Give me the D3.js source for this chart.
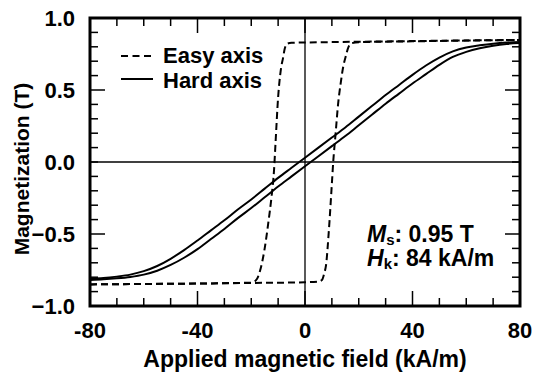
<!DOCTYPE html>
<html>
<head>
<meta charset="utf-8">
<script src="https://cdn.jsdelivr.net/npm/d3@7"></script>
<style>
  body { margin: 0; background: #fff; }
  text { font-family: "Liberation Sans", Arial, sans-serif; font-weight: bold; fill: #000; }
</style>
</head>
<body>
<div id="chart"></div>
<script>
// hard axis loop, field in kA/m, magnetization in T
let hardH = [-80, -75, -70, -65, -60, -55, -50, -45, -40, -35, -30, -25, -20, -15, -10, -5, 0,
  5, 10, 15, 20, 25, 30, 35, 40, 45, 50, 55, 60, 65, 70, 75, 80]
let hardUpper = [-0.811, -0.806, -0.796, -0.782, -0.758, -0.722, -0.672, -0.612, -0.545, -0.475, -0.405, -0.33, -0.26, -0.185, -0.11, -0.04, 0.03,
  0.10, 0.17, 0.24, 0.315, 0.39, 0.465, 0.535, 0.605, 0.67, 0.725, 0.768, 0.795, 0.81, 0.822, 0.83, 0.834]
let hardLower = [-0.819, -0.815, -0.808, -0.798, -0.782, -0.755, -0.715, -0.665, -0.605, -0.535, -0.465, -0.39, -0.32, -0.245, -0.17, -0.10, -0.03,
  0.04, 0.11, 0.18, 0.255, 0.33, 0.405, 0.475, 0.545, 0.61, 0.675, 0.73, 0.765, 0.79, 0.808, 0.82, 0.826]

// easy axis loop, the two branches
let easyDownH = [-80, -60, -40, -25, -20, -19, -17.8, -16.5, -15, -13.5, -12.5, -11.5, -11, -10, -9, -8.2, -7.5, -6.5, -5, 0, 20, 40, 60, 80]
let easyDownM = [-0.85, -0.847, -0.844, -0.84, -0.838, -0.832, -0.81, -0.74, -0.6, -0.4, -0.25, -0.05, 0.12, 0.45, 0.64, 0.72, 0.79, 0.822, 0.828, 0.83, 0.835, 0.84, 0.844, 0.848]
let easyUpH = [-80, -60, -40, -20, 0, 5, 6.3, 7.2, 7.8, 8.9, 10, 10.5, 11.4, 12.3, 13.3, 14.2, 15.1, 16.2, 17.4, 20, 40, 60, 80]
let easyUpM = [-0.85, -0.847, -0.844, -0.84, -0.835, -0.83, -0.82, -0.77, -0.72, -0.47, -0.15, 0.0, 0.2, 0.4, 0.55, 0.66, 0.73, 0.80, 0.825, 0.832, 0.838, 0.843, 0.848]

let xTicks = [-80, -40, 0, 40, 80]
let yTicks = [-1.0, -0.5, 0.0, 0.5, 1.0]

let width = 539,
  height = 374
let margin = { left: 90, right: 19, top: 18, bottom: 68 }

let svg = d3.select('#chart')
  .append('svg')
  .attr('width', width)
  .attr('height', height)

let x = d3.scaleLinear().domain([-80, 80]).range([margin.left, width - margin.right])
let y = d3.scaleLinear().domain([-1, 1]).range([height - margin.bottom, margin.top])

// minor / major ticks on all four sides, pointing inward
let minorX = d3.range(-70, 80, 10)
let minorY = d3.range(-9, 10).map(d => d / 10)

function isMajorX(d) { return d % 40 === 0 }
function isMajorY(d) { return Math.abs(Math.abs(d) - 0.5) < 1e-6 }

let ticks = svg.append('g').attr('stroke', '#000').attr('stroke-width', 1.5)
minorX.forEach(d => {
  let len = isMajorX(d) ? 15 : 8
  ticks.append('line').attr('x1', x(d)).attr('x2', x(d)).attr('y1', y(-1)).attr('y2', y(-1) - len)
  ticks.append('line').attr('x1', x(d)).attr('x2', x(d)).attr('y1', y(1)).attr('y2', y(1) + len)
})
minorY.forEach(d => {
  let len = isMajorY(d) ? 15 : 8
  ticks.append('line').attr('x1', x(-80)).attr('x2', x(-80) + len).attr('y1', y(d)).attr('y2', y(d))
  ticks.append('line').attr('x1', x(80)).attr('x2', x(80) - len).attr('y1', y(d)).attr('y2', y(d))
})

// zero lines
svg.append('line')
  .attr('x1', x(-80)).attr('x2', x(80)).attr('y1', y(0)).attr('y2', y(0))
  .attr('stroke', '#000').attr('stroke-width', 1.3)
svg.append('line')
  .attr('x1', x(0)).attr('x2', x(0)).attr('y1', y(-1)).attr('y2', y(1))
  .attr('stroke', '#000').attr('stroke-width', 1.3)

let line = d3.line()
  .x(d => x(d[0]))
  .y(d => y(d[1]))
  .curve(d3.curveMonotoneX)

let curves = [
  { pts: d3.zip(hardH, hardUpper), dash: null },
  { pts: d3.zip(hardH, hardLower), dash: null },
  { pts: d3.zip(easyDownH, easyDownM), dash: '7,4' },
  { pts: d3.zip(easyUpH, easyUpM), dash: '7,4' }
]

svg.selectAll('.curve')
  .data(curves)
  .enter().append('path')
  .attr('class', 'curve')
  .attr('d', d => line(d.pts))
  .attr('fill', 'none')
  .attr('stroke', '#000')
  .attr('stroke-width', 2)
  .attr('stroke-dasharray', d => d.dash)

// frame
svg.append('rect')
  .attr('x', x(-80)).attr('y', y(1))
  .attr('width', x(80) - x(-80)).attr('height', y(-1) - y(1))
  .attr('fill', 'none').attr('stroke', '#000').attr('stroke-width', 3)

// tick labels
svg.selectAll('.xlab')
  .data(xTicks)
  .enter().append('text')
  .attr('x', d => x(d))
  .attr('y', 338)
  .attr('text-anchor', 'middle')
  .style('font-size', '22px')
  .text(d => d)

svg.selectAll('.ylab')
  .data(yTicks)
  .enter().append('text')
  .attr('x', 75)
  .attr('y', d => y(d))
  .attr('dy', '0.36em')
  .attr('text-anchor', 'end')
  .style('font-size', '22px')
  .text(d => d3.format('.1f')(d))

// axis titles
svg.append('text')
  .attr('x', x(0))
  .attr('y', 367)
  .attr('text-anchor', 'middle')
  .style('font-size', '23px')
  .text('Applied magnetic field (kA/m)')

svg.append('text')
  .attr('transform', 'translate(29,169) rotate(-90)')
  .attr('text-anchor', 'middle')
  .style('font-size', '21px')
  .text('Magnetization (T)')

// legend
let legend = svg.append('g')
legend.append('line')
  .attr('x1', 121).attr('x2', 153).attr('y1', 56).attr('y2', 56)
  .attr('stroke', '#000').attr('stroke-width', 2).attr('stroke-dasharray', '7,4.5')
legend.append('line')
  .attr('x1', 121).attr('x2', 153).attr('y1', 79).attr('y2', 79)
  .attr('stroke', '#000').attr('stroke-width', 2)
legend.append('text').attr('x', 163).attr('y', 63).style('font-size', '22px').text('Easy axis')
legend.append('text').attr('x', 163).attr('y', 88).style('font-size', '22px').text('Hard axis')

// annotation
let note = svg.append('g').style('font-size', '23px')
let t1 = note.append('text').attr('x', 367).attr('y', 242)
t1.append('tspan').style('font-style', 'italic').text('M')
t1.append('tspan').attr('dy', 3).style('font-size', '15px').text('s')
t1.append('tspan').attr('dy', -3).text(': 0.95 T')
let t2 = note.append('text').attr('x', 367).attr('y', 266)
t2.append('tspan').style('font-style', 'italic').text('H')
t2.append('tspan').attr('dy', 3).style('font-size', '15px').text('k')
t2.append('tspan').attr('dy', -3).text(': 84 kA/m')
</script>
</body>
</html>
